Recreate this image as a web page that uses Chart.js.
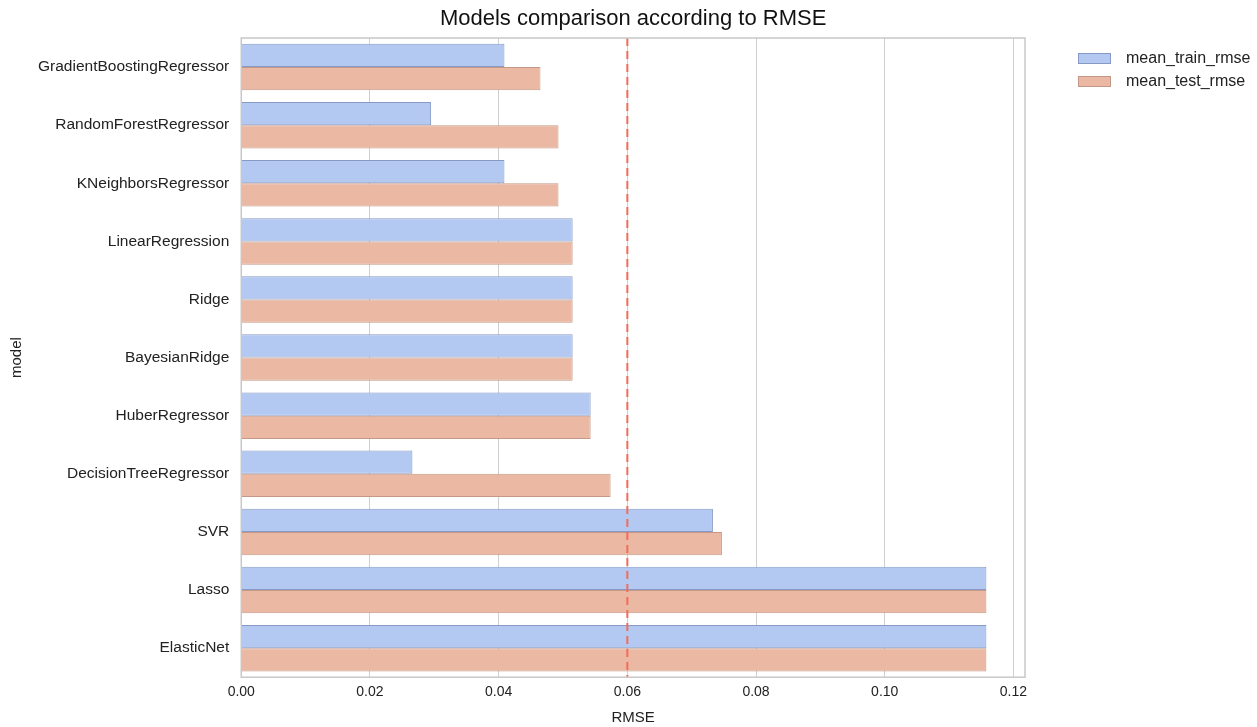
<!DOCTYPE html>
<html>
<head>
<meta charset="utf-8">
<script src="https://cdn.jsdelivr.net/npm/chart.js@4"></script>
<style>
  html, body { margin: 0; padding: 0; background: #fff; }
  #wrap { width: 1257px; height: 727px; }
</style>
</head>
<body>
<div id="wrap"><canvas id="chart"></canvas></div>
<script>
    'use strict';

    // models, top to bottom
    let models = [
        'GradientBoostingRegressor',
        'RandomForestRegressor',
        'KNeighborsRegressor',
        'LinearRegression',
        'Ridge',
        'BayesianRidge',
        'HuberRegressor',
        'DecisionTreeRegressor',
        'SVR',
        'Lasso',
        'ElasticNet'
    ];

    let meanTrainRmse = [0.0409, 0.0295, 0.0409, 0.0515, 0.0515, 0.0515, 0.0543, 0.0266, 0.0733, 0.1158, 0.1158];
    let meanTestRmse = [0.0465, 0.0493, 0.0493, 0.0515, 0.0515, 0.0515, 0.0543, 0.0574, 0.0747, 0.1158, 0.1158];

    let xTicks = [0, 0.02, 0.04, 0.06, 0.08, 0.10, 0.12];
    let threshold = 0.06;
    let chartTitle = 'Models comparison according to RMSE';

    let fontFamily = '"Liberation Sans", Arial, sans-serif';

    // title over the plot, dashed threshold line, grey frame and legend at the right
    let decorations = {
        id: 'decorations',
        afterDatasetsDraw: function (chart) {
            let ctx = chart.ctx,
                area = chart.chartArea,
                x = chart.scales.x.getPixelForValue(threshold);

            ctx.save();
            ctx.strokeStyle = '#f26c5a';
            ctx.lineWidth = 2;
            ctx.setLineDash([8, 5]);
            ctx.beginPath();
            ctx.moveTo(x, area.top);
            ctx.lineTo(x, area.bottom);
            ctx.stroke();
            ctx.restore();
        },
        afterDraw: function (chart) {
            let ctx = chart.ctx,
                area = chart.chartArea;

            ctx.save();
            ctx.strokeStyle = '#c8c8c8';
            ctx.lineWidth = 1.5;
            ctx.strokeRect(area.left, area.top, area.right - area.left, area.bottom - area.top);

            // title
            ctx.fillStyle = '#111';
            ctx.font = '22px ' + fontFamily;
            ctx.textAlign = 'center';
            ctx.textBaseline = 'middle';
            ctx.fillText(chartTitle, (area.left + area.right) / 2, 19);

            // legend
            let lx = area.right + 53,
                ly = area.top + 15;

            ctx.font = '16px ' + fontFamily;
            ctx.textAlign = 'left';
            chart.data.datasets.forEach(function (ds, i) {
                let y = ly + i * 23;
                ctx.fillStyle = ds.backgroundColor;
                ctx.fillRect(lx, y, 33, 11);
                ctx.strokeStyle = ds.borderColor;
                ctx.lineWidth = 1;
                ctx.strokeRect(lx + 0.5, y + 0.5, 32, 10);
                ctx.fillStyle = '#222';
                ctx.fillText(ds.label, lx + 48, y + 6);
            });
            ctx.restore();
        }
    };

    new Chart(document.getElementById('chart'), {
        type: 'bar',
        data: {
            labels: models,
            datasets: [{
                label: 'mean_train_rmse',
                data: meanTrainRmse,
                backgroundColor: '#b4c9f2',
                borderColor: '#8799c4',
                borderWidth: 1
            }, {
                label: 'mean_test_rmse',
                data: meanTestRmse,
                backgroundColor: '#ebb9a3',
                borderColor: '#c49886',
                borderWidth: 1
            }]
        },
        options: {
            indexAxis: 'y',
            responsive: true,
            maintainAspectRatio: false,
            animation: false,
            layout: {
                padding: { left: 0, right: 232, top: 38, bottom: 0 }
            },
            datasets: {
                bar: {
                    categoryPercentage: 0.8,
                    barPercentage: 1.0
                }
            },
            scales: {
                x: {
                    min: 0,
                    max: 0.1218,
                    afterBuildTicks: function (scale) {
                        scale.ticks = xTicks.map(function (v) { return { value: v }; });
                    },
                    grid: { color: '#cfcfcf', lineWidth: 1, drawTicks: false },
                    border: { display: false },
                    ticks: {
                        color: '#222',
                        font: { family: fontFamily, size: 14 },
                        padding: 7,
                        callback: function (v) { return Number(v).toFixed(2); }
                    },
                    title: {
                        display: true,
                        text: 'RMSE',
                        color: '#222',
                        font: { family: fontFamily, size: 15 },
                        padding: { top: 1, bottom: 0 }
                    }
                },
                y: {
                    grid: { display: false, drawTicks: false },
                    border: { display: false },
                    ticks: {
                        color: '#222',
                        font: { family: fontFamily, size: 15.5 },
                        padding: 12
                    },
                    title: {
                        display: true,
                        text: 'model',
                        color: '#222',
                        font: { family: fontFamily, size: 15 },
                        padding: { top: 8, bottom: 0 }
                    }
                }
            },
            plugins: {
                title: { display: false },
                legend: { display: false },
                tooltip: { enabled: false }
            }
        },
        plugins: [decorations]
    });
</script>
</body>
</html>
